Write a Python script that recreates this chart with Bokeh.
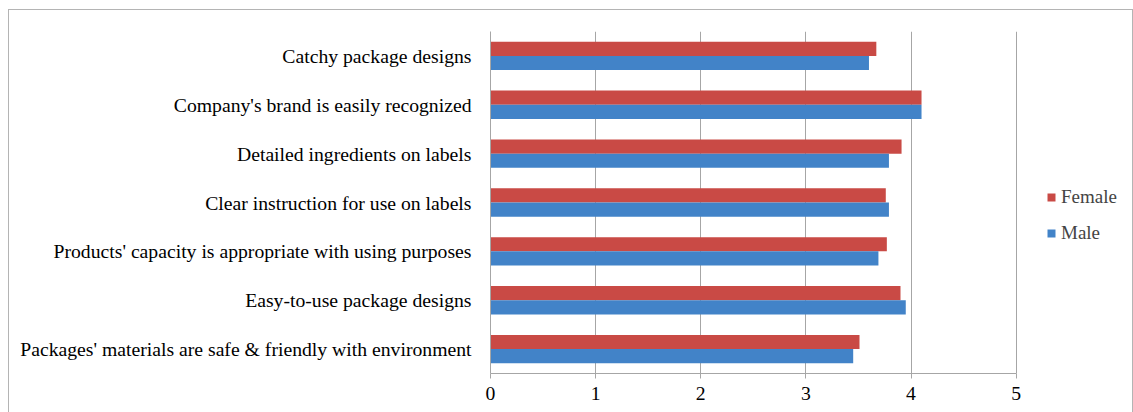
from bokeh.plotting import figure
from bokeh.models import FactorRange, Legend, LegendItem, FixedTicker, ColumnDataSource
from bokeh.transform import dodge
from bokeh.embed import file_html
from bokeh.resources import INLINE

categories = [
    "Catchy package designs",
    "Company's brand is easily recognized",
    "Detailed ingredients on labels",
    "Clear instruction for use on labels",
    "Products' capacity is appropriate with using purposes",
    "Easy-to-use package designs",
    "Packages' materials are safe & friendly with environment",
]
female = [3.67, 4.10, 3.91, 3.76, 3.77, 3.90, 3.51]
male = [3.60, 4.10, 3.79, 3.79, 3.69, 3.95, 3.45]
x_ticks = [0, 1, 2, 3, 4, 5]

FONT = "'Liberation Serif', 'Times New Roman', serif"
RED = "#c94a45"
BLUE = "#4283c8"

src = ColumnDataSource(dict(cat=categories, female=female, male=male))

# frame spans 636 px; 5 units occupy 524 px, the rest holds the legend
p = figure(
    width=1123, height=403,
    y_range=FactorRange(*categories[::-1], range_padding=0),
    x_range=(0, 5 * 636 / 524),
    output_backend="svg", toolbar_location=None,
    min_border_left=481, min_border_right=6, min_border_top=21, min_border_bottom=42,
)
p.margin = (9, 0, 0, 8)
p.styles = {"border": "1px solid #b4b4b4", "box-sizing": "content-box"}

rf = p.hbar(y=dodge("cat", 0.145, range=p.y_range), right="female", height=0.29,
            source=src, fill_color=RED, line_color=None)
rm = p.hbar(y=dodge("cat", -0.145, range=p.y_range), right="male", height=0.29,
            source=src, fill_color=BLUE, line_color=None)

p.outline_line_color = None
p.ygrid.grid_line_color = None
p.xgrid.grid_line_color = "#a6a6a6"
p.xgrid.grid_line_width = 1
p.xaxis.ticker = FixedTicker(ticks=x_ticks)
p.xaxis.bounds = (0, 5)

for ax in (p.xaxis[0], p.yaxis[0]):
    ax.axis_line_color = "#a6a6a6"
    ax.major_tick_line_color = "#a6a6a6"
    ax.major_tick_out = 5
    ax.major_tick_in = 0
    ax.minor_tick_line_color = None
    ax.major_label_text_font = FONT
    ax.major_label_text_font_size = "19.7px"
    ax.major_label_text_color = "#000000"

p.xaxis.major_label_standoff = 8
p.yaxis.major_label_standoff = 14
p.yaxis.major_tick_line_color = None

legend = Legend(
    items=[LegendItem(label="Female", renderers=[rf]), LegendItem(label="Male", renderers=[rm])],
    location=(556, 129),
    label_text_font=FONT, label_text_font_size="19px",
    glyph_width=10, glyph_height=10, label_standoff=5, spacing=14,
    border_line_color=None, background_fill_alpha=0, padding=0, margin=0,
)
p.add_layout(legend, "center")

open("out.html", "w").write(file_html(p, INLINE))
